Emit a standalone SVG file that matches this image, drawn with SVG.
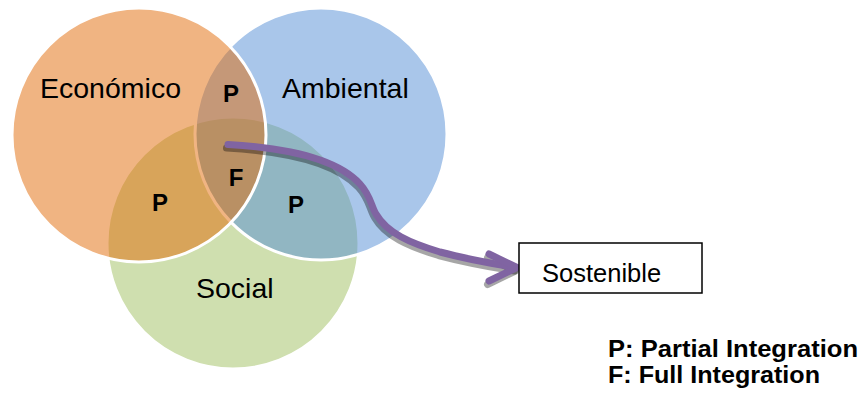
<svg xmlns="http://www.w3.org/2000/svg" width="864" height="400" viewBox="0 0 864 400">
  <style>
    .circle { stroke: #FFFFFF; stroke-width: 3; fill-opacity: 0.5; }
    .lbl { font-family: "Liberation Sans", Arial, sans-serif; font-size: 28.5px; fill: #000000; }
    .pf { font-family: "Liberation Sans", Arial, sans-serif; font-size: 24px; font-weight: bold; fill: #000000; text-anchor: middle; }
    .legend { font-family: "Liberation Sans", Arial, sans-serif; font-size: 24px; font-weight: bold; fill: #000000; }
    .arrow { fill: none; stroke-width: 7; stroke-linecap: round; stroke-linejoin: round; }
  </style>
  <rect width="864" height="400" fill="#FFFFFF"/>
  <g id="social">
    <circle class="circle" cx="233" cy="243" r="126" fill="#9FBF5F"/>
  </g>
  <g id="ambiental">
    <circle class="circle" cx="321" cy="134" r="126" fill="#538DD5"/>
  </g>
  <g id="economico">
    <circle class="circle" cx="139" cy="135" r="127" fill="#E16905"/>
  </g>
  <g id="labels">
    <text class="lbl" x="40" y="98">Económico</text>
    <text class="lbl" x="282" y="98">Ambiental</text>
    <text class="lbl" x="196" y="298">Social</text>
    <text class="pf" x="231" y="102">P</text>
    <text class="pf" x="236" y="186">F</text>
    <text class="pf" x="160" y="211">P</text>
    <text class="pf" x="296" y="213">P</text>
  </g>
  <g id="connectors">
    <g transform="translate(-1.5,3.5)" stroke="#000000" stroke-opacity="0.35">
      <path class="arrow" d="M228,144.5 C290,148 338,160 360,184 C371,196 371,206 376,214 C387,233 410,243 440,252 C470,260 495,264 516,267.5" stroke-linecap="butt"/>
      <polyline class="arrow" points="489,254 517,267.5 489,281"/>
    </g>
    <g stroke="#8064A2">
      <path class="arrow" d="M228,144.5 C290,148 338,160 360,184 C371,196 371,206 376,214 C387,233 410,243 440,252 C470,260 495,264 516,267.5" stroke-linecap="butt"/>
      <polyline class="arrow" points="489,254 517,267.5 489,281"/>
    </g>
  </g>
  <g id="sostenible">
    <rect x="519" y="243" width="183" height="50" fill="#FFFFFF" stroke="#000000" stroke-width="1.5"/>
    <text class="lbl" x="542" y="282" style="font-size:25.5px">Sostenible</text>
  </g>
  <g id="legend">
    <text class="legend" x="608" y="357" textLength="250" lengthAdjust="spacingAndGlyphs">P: Partial Integration</text>
    <text class="legend" x="608" y="383" textLength="212" lengthAdjust="spacingAndGlyphs">F: Full Integration</text>
  </g>
</svg>
